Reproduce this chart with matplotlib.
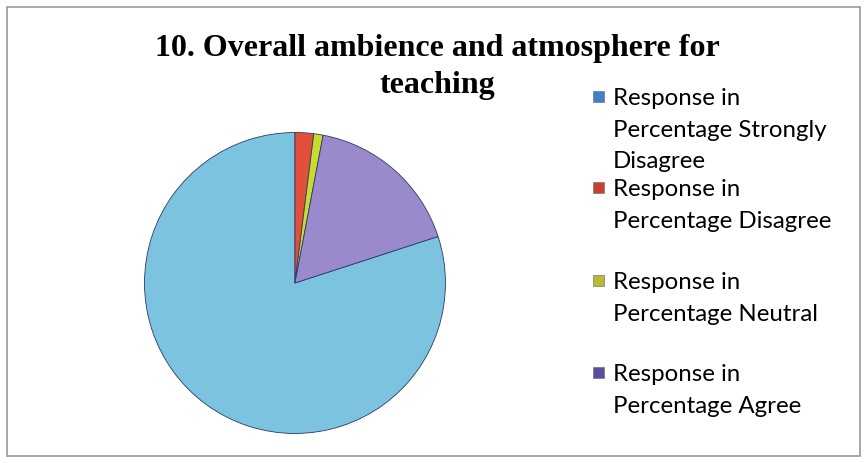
import matplotlib.pyplot as plt
from matplotlib.patches import Rectangle

# datos (porcentaje)
categorias = ["Response in\nPercentage Strongly\nDisagree",
              "Response in\nPercentage Disagree",
              "Response in\nPercentage Neutral",
              "Response in\nPercentage Agree"]
valores = [80, 2, 1, 17]
colores = ["#7cc3df", "#e2503c", "#c9dc2c", "#9b8acb"]
colores_leyenda = ["#3f80c8", "#c8402e", "#b9b935", "#5a4ca0"]

fig = plt.figure(figsize=(8.65, 4.63), dpi=100)
fig.patch.set_facecolor("white")

# borde exterior
fig.add_artist(Rectangle((0.008, 0.015), 0.986, 0.97, transform=fig.transFigure,
                         fill=False, edgecolor="#9a9a9a", linewidth=1.2))

""" Pastel """
# la rebanada grande termina arriba; las demas siguen en sentido horario
inicio = 90 - 360 * sum(valores[1:]) / sum(valores)
ax = fig.add_axes([0.1653, 0.0605, 0.3514, 0.6566])
ax.pie(valores, colors=colores, startangle=inicio, counterclock=False,
       wedgeprops=dict(edgecolor="#2a3a6a", linewidth=0.6))
ax.set_xlim(-1.01, 1.01)
ax.set_ylim(-1.01, 1.01)
ax.set_aspect("equal")

""" Titulo """
fig.text(437 / 865, 1 - 67 / 463, "10. Overall ambience and atmosphere for\nteaching",
         ha="center", va="center", fontsize=23, fontweight="bold",
         family="Liberation Serif", linespacing=1.35)

""" Leyenda hecha a mano """
y_entradas = [97, 188, 281, 373]
for etiqueta, color, y in zip(categorias, colores_leyenda, y_entradas):
    fig.add_artist(Rectangle((593 / 865, 1 - (y + 5) / 463), 11 / 865, 11 / 463,
                             transform=fig.transFigure, facecolor=color,
                             edgecolor="#777777", linewidth=0.5))
    fig.text(613 / 865, 1 - (y - 9) / 463, etiqueta, ha="left", va="top",
             fontsize=17.3, family="Lato", linespacing=1.62)

fig.savefig("out.png", dpi=100)
